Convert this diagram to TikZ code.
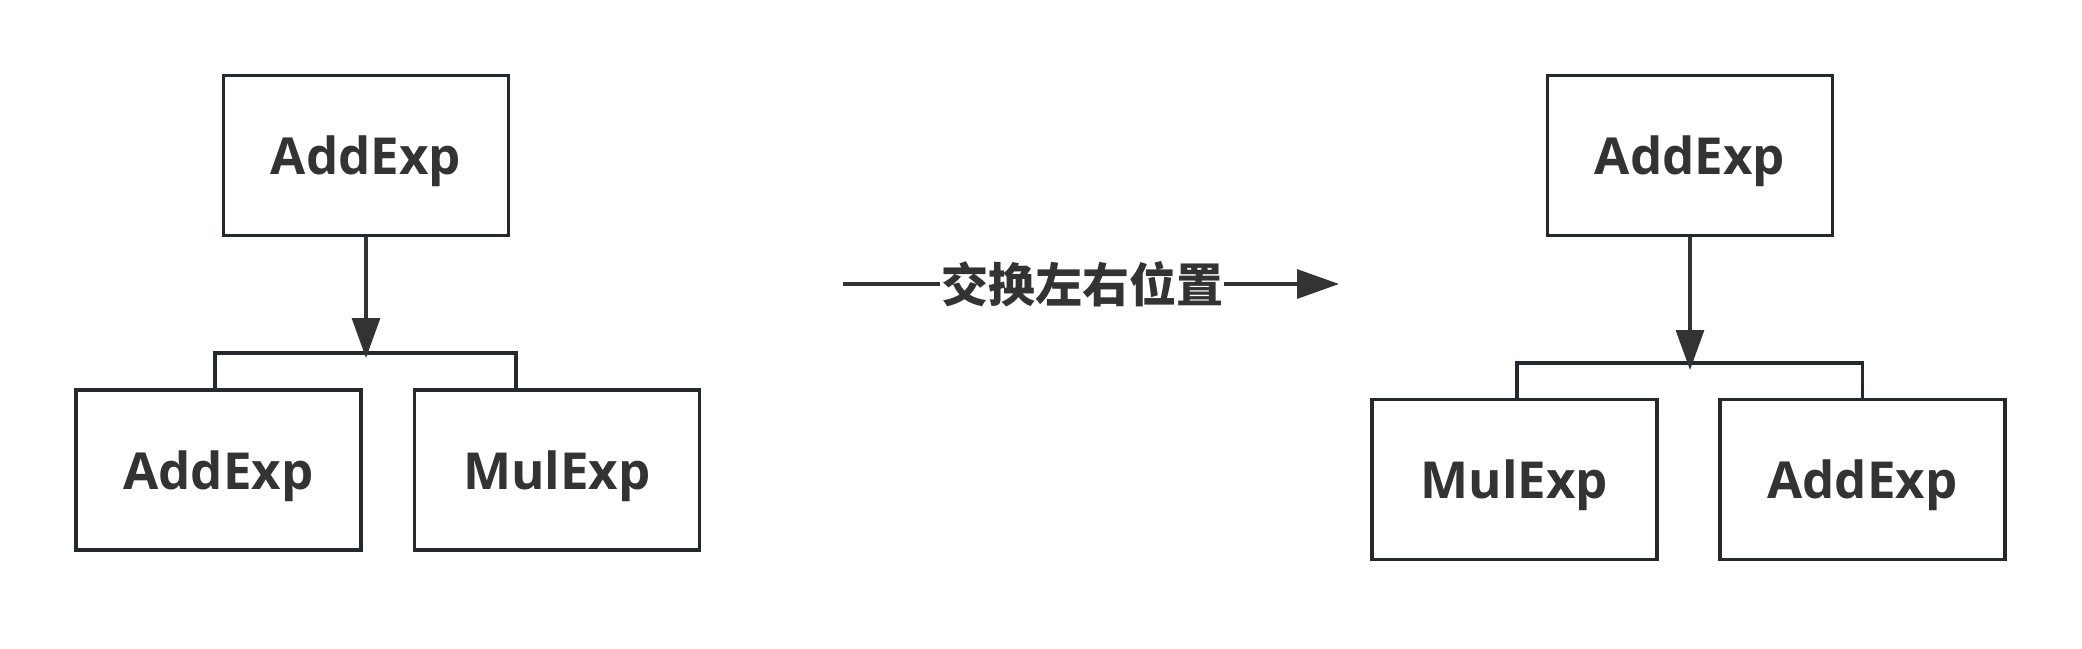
\documentclass[tikz,border=0pt]{standalone}
\usepackage{fontspec}
\usepackage{tikz}
\usepackage{xcolor}
\setmainfont{Open Sans}
\newfontfamily\cjk{Noto Sans CJK SC}
\usetikzlibrary{arrows.meta,positioning}
\definecolor{boxline}{HTML}{24292E}
\definecolor{inkgray}{HTML}{333333}
\tikzstyle{boxes} = [rectangle, minimum width=285pt, minimum height=160pt, text centered,
text depth=0pt, draw=boxline, line width=3.6pt, text=inkgray, font=\fontsize{51}{60}\selectfont\bfseries]
\tikzstyle{links} = [draw=boxline, line width=3.6pt]
\tikzstyle{downarrow} = [draw=inkgray, line width=3.2pt, -{Triangle[length=40pt, width=28pt]}]
\tikzstyle{swaparrow} = [draw=inkgray, line width=3.2pt, -{Triangle[length=42pt, width=29pt]}]
\begin{document}
\begin{tikzpicture}[x=1pt, y=-1pt]
            \useasboundingbox (0,0) rectangle (2082,648);

            % Left tree
            \node(addtop) [boxes] at (366,155.5) {AddExp};
            \node(addleft) [boxes] at (218.5,470) {AddExp};
            \node(mulright) [boxes] at (557,470) {MulExp};

            % Draw Lines
            \coordinate (ljoin) at (366,353);
            \coordinate (ltip) at (366,358);
            \draw[links] (addleft.north -| 215,0) |- (ljoin) -| (mulright.north -| 516,0);
            \draw[downarrow] (addtop.south) -- (ltip);

            % Swap arrow
            \coordinate (swapfrom) at (843,284);
            \coordinate (swapto) at (1339,284);
            \draw[swaparrow] (swapfrom) -- (swapto);
            \node(swap) [fill=white, inner sep=1pt, text=inkgray,
                font=\cjk\fontsize{47}{50}\selectfont\bfseries] at (1082,284) {交换左右位置};

            % Right tree
            \node(addtop2) [boxes] at (1690,155.5) {AddExp};
            \node(mulleft2) [boxes] at (1514.5,479.5) {MulExp};
            \node(addright2) [boxes] at (1862.5,479.5) {AddExp};

            % Draw Lines
            \coordinate (rjoin) at (1690,363);
            \coordinate (rtip) at (1690,370);
            \draw[links] (mulleft2.north -| 1517,0) |- (rjoin) -| (addright2.north -| 1862.5,0);
            \draw[downarrow] (addtop2.south) -- (rtip);
\end{tikzpicture}
\end{document}
